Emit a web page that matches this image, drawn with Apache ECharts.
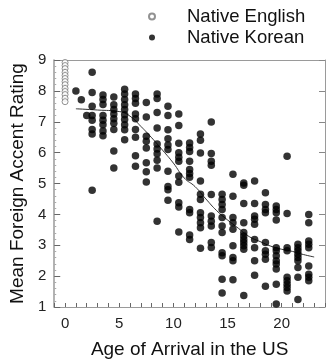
<!DOCTYPE html>
<html>
<head>
<meta charset="utf-8">
<script src="https://cdn.jsdelivr.net/npm/echarts@6/dist/echarts.min.js"></script>
<style>html,body{margin:0;padding:0;background:#fff;}#c{width:331px;height:364px;}</style>
</head>
<body>
<div id="c"></div>
<script>
// Native English speakers (age of arrival 0)
const englishAge = 0;
const englishRatings = [8.92, 8.82, 8.72, 8.6, 8.5, 8.4, 8.3, 8.2, 8.08, 7.98, 7.88, 7.76, 7.65];

// Native Korean speakers: ages of arrival and ratings in each age column
const koreanAges = [1, 1.5, 2, 2.5, 3.5, 4.5, 5.5, 6.5, 7.5, 8.5, 9.5, 10.5, 11.5, 12.5, 13.5, 14.5, 15.5, 16.5, 17.5, 18.5, 19.5, 20.5, 21.5, 22.5];
const koreanRatings = [
  [8.0],
  [7.71],
  [7.2],
  [8.6, 7.95, 7.5, 7.2, 7.05, 6.75, 6.6, 4.78],
  [7.87, 7.72, 7.56, 7.2, 7.05, 6.9, 6.7, 6.55],
  [7.8, 7.55, 7.4, 7.25, 7.1, 6.95, 6.75, 6.05, 5.5],
  [8.05, 7.9, 7.72, 7.55, 7.4, 7.23, 7.07, 6.9, 6.74, 6.42],
  [7.9, 7.75, 7.6, 7.25, 7.1, 6.75, 6.5, 5.9, 5.56],
  [7.62, 7.15, 6.53, 6.37, 6.15, 5.67, 5.38, 5.05],
  [7.9, 7.75, 7.3, 6.8, 6.28, 6.12, 5.96, 5.75, 5.5, 3.78],
  [7.5, 7.2, 6.74, 6.45, 6.25, 6.1, 5.4, 4.9, 4.8, 4.46],
  [7.25, 6.88, 6.3, 6.0, 5.85, 5.72, 5.24, 5.04, 4.38, 4.24, 3.43],
  [6.31, 6.17, 6.04, 5.72, 5.45, 5.32, 5.2, 4.16, 4.05, 3.33, 3.19],
  [6.6, 6.4, 5.99, 5.08, 4.65, 4.48, 4.05, 3.9, 3.73, 3.57, 2.9],
  [6.99, 5.97, 5.72, 5.59, 4.64, 3.95, 3.78, 3.62, 3.09, 2.93],
  [4.65, 4.48, 4.32, 4.16, 3.9, 3.62, 3.41, 2.76, 2.66, 1.9, 1.45],
  [5.3, 4.59, 3.9, 3.73, 3.52, 2.98, 2.6, 2.5, 1.88],
  [5.02, 4.94, 4.35, 3.73, 3.41, 3.3, 3.19, 3.09, 2.98, 2.87, 1.37],
  [5.08, 4.35, 3.95, 3.84, 3.68, 3.19, 2.92, 2.5, 2.03],
  [4.7, 4.32, 4.16, 4.05, 3.09, 2.82, 2.71, 2.55, 1.67],
  [4.27, 4.16, 4.05, 3.82, 2.92, 2.82, 2.66, 2.5, 2.39, 2.23, 1.74, 1.1],
  [5.88, 4.03, 2.92, 2.82, 1.96, 1.85, 1.74, 1.63, 1.52],
  [3.03, 2.92, 2.82, 2.71, 2.6, 2.5, 2.28, 1.96, 1.24],
  [4.0, 3.73, 3.14, 3.03, 2.92, 2.33, 2.06, 1.96, 1.85]
];

// Smoothed trend line
const trendAges = [1, 3, 5, 6, 7, 8, 9, 10, 11, 12, 13, 14, 15, 16, 17, 18, 19, 20, 21, 22, 23];
const trendRatings = [7.42, 7.38, 7.33, 7.18, 6.85, 6.48, 6.08, 5.66, 5.18, 4.9, 4.5, 4.12, 3.82, 3.55, 3.28, 3.12, 2.97, 2.87, 2.8, 2.7, 2.62];

const xTickLabels = [0, 5, 10, 15, 20];
const yTickLabels = [1, 2, 3, 4, 5, 6, 7, 8, 9];

const englishData = englishRatings.map(r => [englishAge, r]);
const koreanData = [];
koreanAges.forEach((a, i) => koreanRatings[i].forEach(r => koreanData.push([a, r])));
const trendData = trendAges.map((a, i) => [a, trendRatings[i]]);

const FONT = 'Liberation Sans, Arial, sans-serif';
const AXIS_COLOR = '#9a9a9a';

const chart = echarts.init(document.getElementById('c'));
chart.setOption({
  animation: false,
  backgroundColor: '#fff',
  grid: { left: 52, right: 6, top: 60, bottom: 56 },
  legend: {
    orient: 'vertical',
    left: 143,
    top: 2,
    itemWidth: 60,
    itemHeight: 6,
    itemGap: 2,
    data: ['Native English', 'Native Korean'],
    textStyle: { fontFamily: FONT, fontSize: 18.5, color: '#111' }
  },
  xAxis: [{
    type: 'value',
    min: -1, max: 24, interval: 1,
    name: 'Age of Arrival in the US',
    nameLocation: 'middle',
    nameGap: 33,
    nameTextStyle: { fontFamily: FONT, fontSize: 19, color: '#111' },
    axisLine: { show: true, onZero: false, lineStyle: { color: AXIS_COLOR, width: 1 } },
    axisTick: { show: true, inside: true, length: 4, lineStyle: { color: '#666' } },
    axisLabel: {
      fontFamily: FONT, fontSize: 15, color: '#222', margin: 9,
      formatter: v => (xTickLabels.indexOf(v) >= 0 ? String(v) : '')
    },
    splitLine: { show: false }
  }, {
    type: 'value', position: 'top',
    min: -1, max: 24, interval: 1,
    axisLine: { show: true, onZero: false, lineStyle: { color: AXIS_COLOR, width: 1 } },
    axisTick: { show: false }, axisLabel: { show: false }, splitLine: { show: false }
  }],
  yAxis: [{
    type: 'value',
    min: 1, max: 9, interval: 1,
    name: 'Mean Foreign Accent Rating',
    nameLocation: 'middle',
    nameGap: 26,
    nameTextStyle: { fontFamily: FONT, fontSize: 19, color: '#111' },
    axisLine: { show: true, onZero: false, lineStyle: { color: AXIS_COLOR, width: 1.5 } },
    axisTick: { show: true, inside: true, length: 6, lineStyle: { color: '#666' } },
    minorTick: { show: true, splitNumber: 5, length: 2, lineStyle: { color: '#aaa' } },
    axisLabel: {
      fontFamily: FONT, fontSize: 15, color: '#222', margin: 8,
      formatter: v => (yTickLabels.indexOf(v) >= 0 ? String(v) : '')
    },
    splitLine: { show: false }
  }, {
    type: 'value', position: 'right',
    min: 1, max: 9, interval: 1,
    axisLine: { show: true, onZero: false, lineStyle: { color: AXIS_COLOR, width: 1 } },
    axisTick: { show: true, inside: true, length: 6, lineStyle: { color: '#888' } },
    axisLabel: { show: false }, splitLine: { show: false }
  }],
  series: [{
    name: 'Native English',
    type: 'scatter',
    symbol: 'circle',
    symbolSize: 6,
    itemStyle: { color: '#fff', borderColor: '#777', borderWidth: 1 },
    data: englishData,
    z: 3
  }, {
    name: 'Native Korean',
    type: 'scatter',
    symbol: 'circle',
    symbolSize: 7.5,
    itemStyle: { color: '#000' },
    data: koreanData,
    z: 3
  }, {
    name: 'trend',
    type: 'line',
    smooth: true,
    showSymbol: false,
    symbol: 'none',
    lineStyle: { color: '#333', width: 1 },
    data: trendData,
    z: 2
  }]
});
</script>
</body>
</html>
